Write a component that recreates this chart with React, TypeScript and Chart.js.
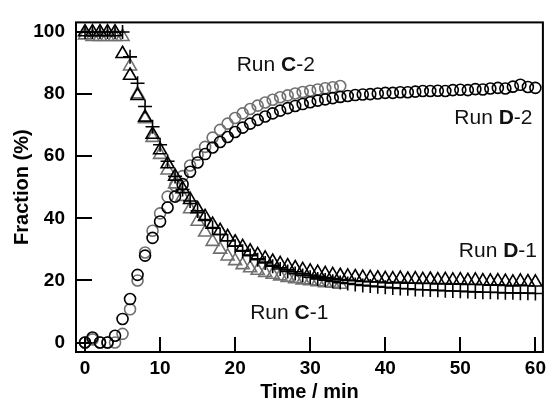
import React, { useEffect, useRef } from 'react';
import { Chart, registerables } from 'chart.js';

Chart.register(...registerables);

// Sampling times (min)
const timesC = Array.from({ length: 35 }, (_, i) => i); // runs C: 0..34 min
const timesD = Array.from({ length: 61 }, (_, i) => i); // runs D: 0..60 min

// Fraction (%) of each species
const runC1 = [
  99, 98.5, 98.5, 98.5, 98.5, 98.5, 89, 80, 72, 66, 60.5, 55.5, 51, 47, 43, 39, 35.5, 32.5,
  30, 27.8, 26.3, 25, 24, 23.2, 22.5, 21.9, 21.4, 20.9, 20.5, 20.1, 19.8, 19.5, 19.2, 19, 18.7,
];
const runC2 = [
  0, 1, 0, 0, 0, 2.8, 10.7, 20, 29, 36, 41.6, 47, 50.5, 53.6, 57, 60.5, 63, 66, 68.5, 70.5,
  72.3, 73.8, 75.2, 76.3, 77.3, 78.2, 79, 79.6, 80.2, 80.7, 81.1, 81.5, 81.9, 82.2, 82.6,
];
const runD1 = [
  100, 100, 100, 100, 100, 93, 86, 79.5, 72.5, 67, 62, 57.5, 53.5, 49.5, 46, 43, 40.5, 38, 36,
  34, 32.3, 30.8, 29.4, 28.2, 27.1, 26.1, 25.3, 24.6, 24, 23.4, 22.9, 22.5, 22.1, 21.8, 21.5,
  21.3, 21.1, 20.9, 20.8, 20.7, 20.5, 20.4, 20.6, 20.3, 20.4, 20.2, 20.3, 20.1, 20.2, 20, 20.1,
  19.9, 20, 19.8, 19.7, 19.8, 19.6, 19.4, 19.7, 19.5, 19.4,
];
const runD2 = [
  0, 1.6, 0, 0, 2.2, 7.6, 14, 21.8, 28, 33.7, 39, 43.5, 47, 51, 55, 58, 60.7, 62.8, 64.6, 66.2,
  67.8, 69.2, 70.5, 71.7, 72.8, 73.8, 74.7, 75.5, 76.2, 76.8, 77.4, 77.9, 78.3, 78.7, 79.1,
  79.4, 79.7, 79.9, 80, 80.2, 80.4, 80.4, 80.6, 80.6, 80.8, 81, 81, 81.1, 81, 81.3, 81.4, 81.3,
  81.6, 81.5, 81.8, 82, 81.8, 82.4, 83, 82.3, 82,
];
const runPlus = [
  100, 100, 100, 100, 100, 100, 92, 83.5, 76, 69.5, 63.7, 58.4, 53.5, 49.3, 45.6, 42.4, 39.6,
  37, 34.8, 32.8, 31, 29.4, 28, 26.7, 25.6, 24.6, 23.7, 22.9, 22.2, 21.6, 21, 20.5, 20.1, 19.7,
  19.3, 19, 18.7, 18.4, 18.2, 18, 17.8, 17.6, 17.4, 17.3, 17.1, 17, 16.9, 16.8, 16.7, 16.6,
  16.5, 16.4, 16.3, 16.2, 16.2, 16.1, 16, 16, 15.9, 15.9, 15.8,
];

const xTicks = [0, 10, 20, 30, 40, 50, 60];
const yTicks = [0, 20, 40, 60, 80, 100];

// Run labels placed in data coordinates (left edge, baseline)
const runLabels = [
  { name: 'C', suffix: '-2', x: 20.2, y: 87.4 },
  { name: 'D', suffix: '-2', x: 49.2, y: 70.4 },
  { name: 'D', suffix: '-1', x: 49.8, y: 27.4 },
  { name: 'C', suffix: '-1', x: 22.0, y: 7.5 },
];

const FONT = "'Liberation Sans', Arial, sans-serif";
const BLACK = '#000000';
const GRAY = '#707070';

const toPoints = (xs: number[], ys: number[]) => ys.map((y, i) => ({ x: xs[i], y }));

const framePlugin = {
  id: 'frameAndLabels',
  afterDatasetsDraw(chart: any) {
    const { ctx, chartArea, scales } = chart;
    const { left, right, top, bottom } = chartArea;
    const xs = scales.x;
    const ys = scales.y;
    ctx.save();
    ctx.strokeStyle = BLACK;
    ctx.lineWidth = 2;
    ctx.strokeRect(left, top, right - left, bottom - top);
    // inward tick marks
    ctx.beginPath();
    xTicks.forEach((v) => {
      const px = Math.round(xs.getPixelForValue(v));
      ctx.moveTo(px, bottom);
      ctx.lineTo(px, bottom - 15);
    });
    yTicks.forEach((v) => {
      const py = Math.round(ys.getPixelForValue(v));
      ctx.moveTo(left, py);
      ctx.lineTo(left + 16, py);
    });
    ctx.stroke();
    // run labels
    ctx.fillStyle = '#111111';
    ctx.textBaseline = 'alphabetic';
    ctx.textAlign = 'left';
    runLabels.forEach((l) => {
      let px = xs.getPixelForValue(l.x);
      const py = ys.getPixelForValue(l.y);
      ctx.font = `21px ${FONT}`;
      ctx.fillText('Run ', px, py);
      px += ctx.measureText('Run ').width;
      ctx.font = `bold 21px ${FONT}`;
      ctx.fillText(l.name, px, py);
      px += ctx.measureText(l.name).width;
      ctx.font = `21px ${FONT}`;
      ctx.fillText(l.suffix, px, py);
    });
    ctx.restore();
  },
};

export default function App() {
  const canvasRef = useRef<HTMLCanvasElement | null>(null);

  useEffect(() => {
    const canvas = canvasRef.current;
    if (!canvas) return;
    const marker = (color: string, style: string, radius: number) => ({
      pointStyle: style,
      pointRadius: radius,
      pointHoverRadius: radius,
      pointBorderColor: color,
      pointBackgroundColor: 'rgba(0,0,0,0)',
      pointBorderWidth: 1.6,
      borderColor: color,
      backgroundColor: 'rgba(0,0,0,0)',
      showLine: false,
    });
    const chart = new Chart(canvas, {
      type: 'scatter',
      data: {
        datasets: [
          { label: 'Run D-2', data: toPoints(timesD, runD2), ...marker(BLACK, 'circle', 5.5) },
          { label: 'Run D-1', data: toPoints(timesD, runD1), ...marker(BLACK, 'triangle', 7.5) },
          { label: 'Run D-1 (+)', data: toPoints(timesD, runPlus), ...marker(BLACK, 'cross', 7) },
          { label: 'Run C-2', data: toPoints(timesC, runC2), ...marker(GRAY, 'circle', 5.5) },
          { label: 'Run C-1', data: toPoints(timesC, runC1), ...marker(GRAY, 'triangle', 7.5) },
        ],
      },
      options: {
        animation: false,
        responsive: false,
        devicePixelRatio: 1,
        layout: { padding: { top: 14, right: 4, left: 0, bottom: 0 } },
        plugins: { legend: { display: false }, tooltip: { enabled: false } },
        scales: {
          x: {
            type: 'linear',
            min: -1.2,
            max: 61,
            grid: { display: false, drawTicks: false },
            border: { display: false },
            ticks: {
              stepSize: 10,
              includeBounds: false,
              padding: 5,
              color: BLACK,
              font: { family: FONT, size: 19, weight: 'bold' },
            },
            title: {
              display: true,
              text: 'Time / min',
              color: BLACK,
              padding: { top: 0, bottom: -2 },
              font: { family: FONT, size: 20, weight: 'bold' },
            },
            afterFit: (s: any) => {
              s.height = 50;
            },
          },
          y: {
            type: 'linear',
            min: -3.05,
            max: 103.1,
            grid: { display: false, drawTicks: false },
            border: { display: false },
            ticks: {
              stepSize: 20,
              includeBounds: false,
              padding: 11,
              color: BLACK,
              font: { family: FONT, size: 19, weight: 'bold' },
            },
            title: {
              display: true,
              text: 'Fraction (%)',
              color: BLACK,
              padding: { top: 10, bottom: 0 },
              font: { family: FONT, size: 20, weight: 'bold' },
            },
            afterFit: (s: any) => {
              s.width = 76;
            },
          },
        },
      },
      plugins: [framePlugin],
    } as any);
    return () => chart.destroy();
  }, []);

  return (
    <div style={{ position: 'fixed', left: 0, top: 0, width: 552, height: 402, background: '#fff' }}>
      <canvas ref={canvasRef} width={552} height={402} style={{ width: 552, height: 402, display: 'block' }} />
    </div>
  );
}
